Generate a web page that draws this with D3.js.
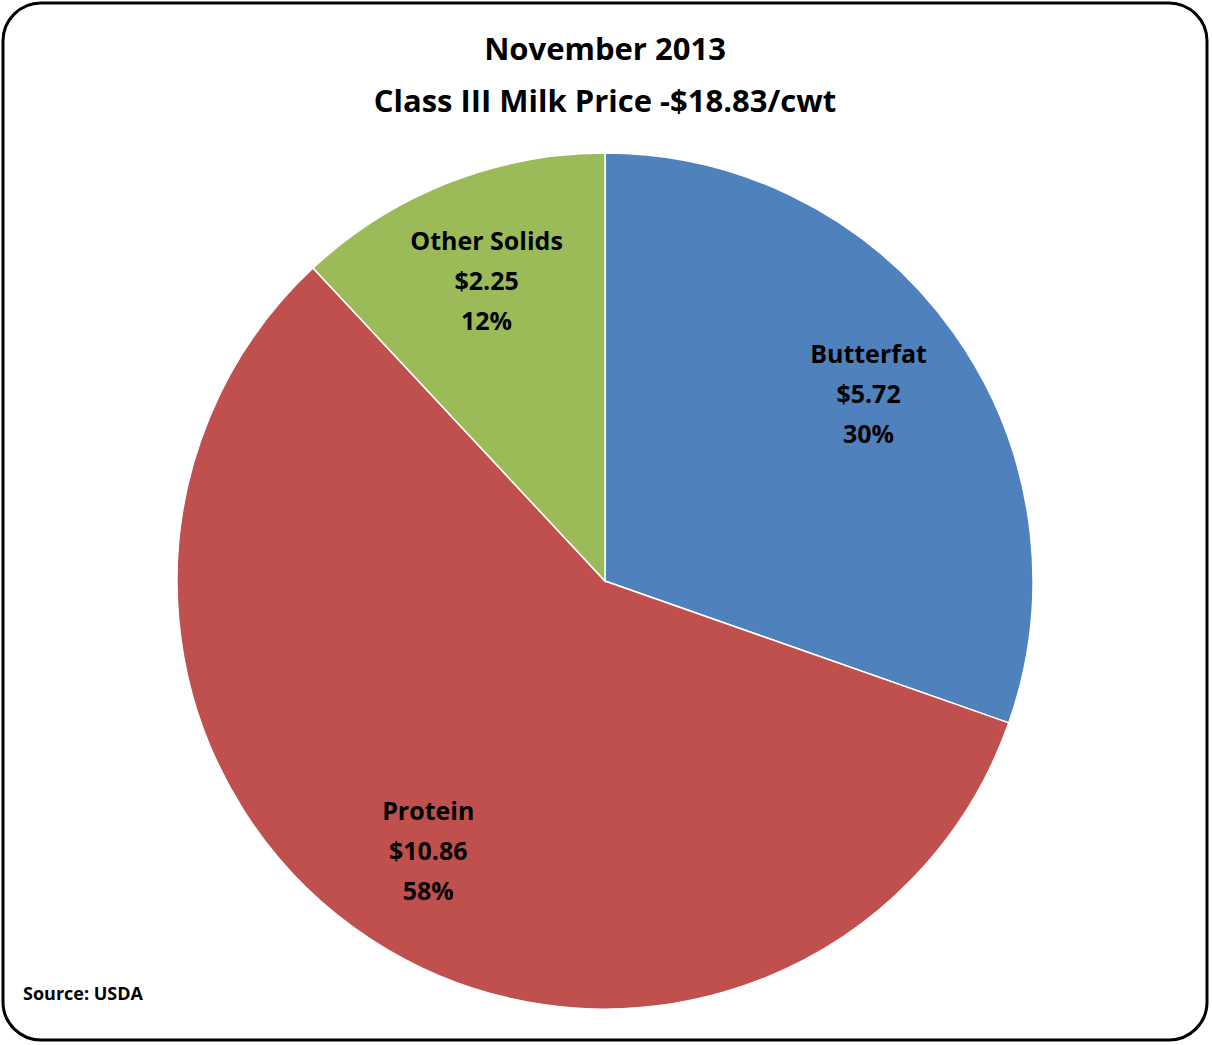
<!DOCTYPE html>
<html><head><meta charset="utf-8">
<script src="https://cdn.jsdelivr.net/npm/d3@7"></script>
<style>body{margin:0;background:#fff}svg{display:block}</style>
</head><body>
<script>
const categories = ["Butterfat", "Protein", "Other Solids"];
const values = [5.72, 10.86, 2.25];
const priceLabels = ["$5.72", "$10.86", "$2.25"];
const pctLabels = ["30%", "58%", "12%"];
const colors = ["#4F81BD", "#C0504D", "#9BBB59"];

const W = 1212, H = 1045;
const svg = d3.select("body").append("svg").attr("width", W).attr("height", H);
const font = "'Open Sans', 'Liberation Sans', sans-serif";
svg.append("rect").attr("x", 3).attr("y", 3).attr("width", W - 8).attr("height", H - 8)
  .attr("rx", 38).attr("fill", "#fff").attr("stroke", "#000").attr("stroke-width", 3);

svg.append("text").attr("x", 605).attr("y", 60).attr("text-anchor", "middle")
  .attr("font-family", font).attr("font-weight", "bold").attr("font-size", 31).text("November 2013");
svg.append("text").attr("x", 605).attr("y", 112).attr("text-anchor", "middle")
  .attr("font-family", font).attr("font-weight", "bold").attr("font-size", 31).text("Class III Milk Price -$18.83/cwt");

const cx = 605, cy = 581, r = 428;
const pie = d3.pie().sort(null).value(d => d)(values);
const arc = d3.arc().innerRadius(0).outerRadius(r);
const labelArc = d3.arc().innerRadius(323 * 2 - 0).outerRadius(0);
const g = svg.append("g").attr("transform", `translate(${cx},${cy})`);
g.selectAll("path").data(pie).join("path").attr("d", arc)
  .attr("fill", (d, i) => colors[i]).attr("stroke", "#fff").attr("stroke-width", 1.5);

pie.forEach((d, i) => {
  const a = (d.startAngle + d.endAngle) / 2;
  const x = Math.sin(a) * 323, y = -Math.cos(a) * 323;
  const t = g.append("text").attr("text-anchor", "middle").attr("font-family", font)
    .attr("font-weight", "bold").attr("font-size", 25).attr("fill", "#000");
  [categories[i], priceLabels[i], pctLabels[i]].forEach((s, k) => {
    t.append("tspan").attr("x", x).attr("y", y + (k - 1) * 40 + 9).text(s);
  });
});

svg.append("text").attr("x", 23).attr("y", 1000).attr("font-family", font)
  .attr("font-weight", "bold").attr("font-size", 18).text("Source: USDA");
</script>
</body></html>
